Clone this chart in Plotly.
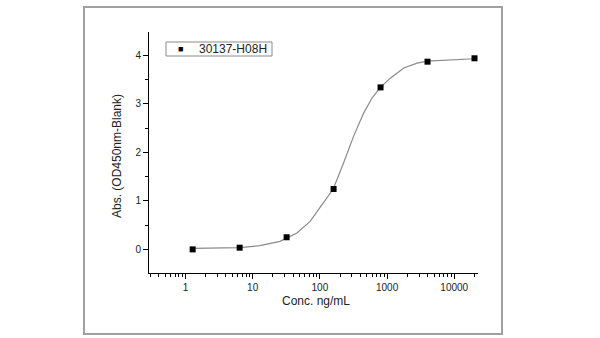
import plotly.graph_objects as go

# Measured data points
conc = [1.28, 6.4, 32, 160, 800, 4000, 20000]
absorb = [0.00, 0.035, 0.25, 1.245, 3.34, 3.87, 3.94]

# Fitted curve
curve_x = [1.28, 6.4, 12.8, 25.5, 45.4, 71.7, 95.3, 158, 225, 317, 448, 597, 795, 1120, 1770, 2805, 3955, 8810, 20000]
curve_y = [0.02, 0.035, 0.076, 0.165, 0.338, 0.577, 0.819, 1.245, 1.78, 2.33, 2.81, 3.12, 3.34, 3.53, 3.74, 3.84, 3.88, 3.91, 3.93]

series_name = "30137-H08H"
x_title = "Conc. ng/mL"
y_title = "Abs. (OD450nm-Blank)"
x_tickvals = [1, 10, 100, 1000, 10000]
x_ticktext = ["1", "10", "100", "1000", "10000"]
y_tickvals = [0, 1, 2, 3, 4]

FONT = "Liberation Sans, Arial, sans-serif"

fig = go.Figure()
fig.add_trace(go.Scatter(x=curve_x, y=curve_y, mode="lines",
                         line=dict(color="#8a8a8a", width=1.2),
                         showlegend=False, hoverinfo="skip"))
fig.add_trace(go.Scatter(x=conc, y=absorb, mode="markers", name=series_name,
                         marker=dict(symbol="square", size=6, color="black"),
                         showlegend=False))

W, H = 600, 338
L, R, T, B = 149, 478, 32, 273
pw, ph = R - L, B - T

def px(xp):
    return (xp - L) / pw

def py(yp):
    return (B - yp) / ph

fig.update_layout(
    width=W, height=H,
    margin=dict(l=L, r=W - R, t=T, b=H - B, pad=0),
    paper_bgcolor="white", plot_bgcolor="white",
    font=dict(family=FONT, size=10, color="#222"),
    showlegend=False,
    xaxis=dict(type="log", range=[-0.5426, 4.353],
               showline=True, linecolor="black", linewidth=1,
               showgrid=False, zeroline=False,
               ticks="outside", ticklen=5, tickcolor="black", tickwidth=1,
               tickvals=x_tickvals, ticktext=x_ticktext,
               tickfont=dict(size=10, color="#222"),
               minor=dict(ticks="outside", ticklen=3, tickcolor="black",
                          dtick="D1", showgrid=False)),
    yaxis=dict(range=[-0.487, 4.482],
               showline=True, linecolor="black", linewidth=1,
               showgrid=False, zeroline=False,
               ticks="outside", ticklen=5, tickcolor="black", tickwidth=1,
               tickvals=y_tickvals,
               tickfont=dict(size=10, color="#222"),
               minor=dict(ticks="outside", ticklen=3, tickcolor="black",
                          dtick=0.5, tick0=0, showgrid=False)),
)

fig.add_annotation(text=x_title, xref="paper", yref="paper",
                   x=px(316), y=py(301), xanchor="center", yanchor="middle",
                   showarrow=False, font=dict(size=12, color="#222"))
fig.add_annotation(text=y_title, xref="paper", yref="paper",
                   x=px(117), y=py(156), xanchor="center", yanchor="middle",
                   textangle=-90, showarrow=False, font=dict(size=12, color="#222"))

# Legend (drawn manually to match the compact box)
fig.add_shape(type="rect", xref="paper", yref="paper",
              x0=px(166), x1=px(272), y0=py(56), y1=py(42),
              line=dict(color="#8a8a8a", width=1), fillcolor="white")
fig.add_annotation(text="\u25a0", xref="paper", yref="paper",
                   x=px(180.5), y=py(49), xanchor="center", yanchor="middle",
                   showarrow=False, font=dict(size=9, color="black"))
fig.add_annotation(text=series_name, xref="paper", yref="paper",
                   x=px(197), y=py(49), xanchor="left", yanchor="middle",
                   showarrow=False, font=dict(size=12, color="#222"))

# Outer frame
fig.add_shape(type="rect", xref="paper", yref="paper",
              x0=px(84), x1=px(502), y0=py(334), y1=py(7),
              line=dict(color="#a0a0a0", width=2), fillcolor="rgba(0,0,0,0)", layer="below")

fig.write_html("out.html")
